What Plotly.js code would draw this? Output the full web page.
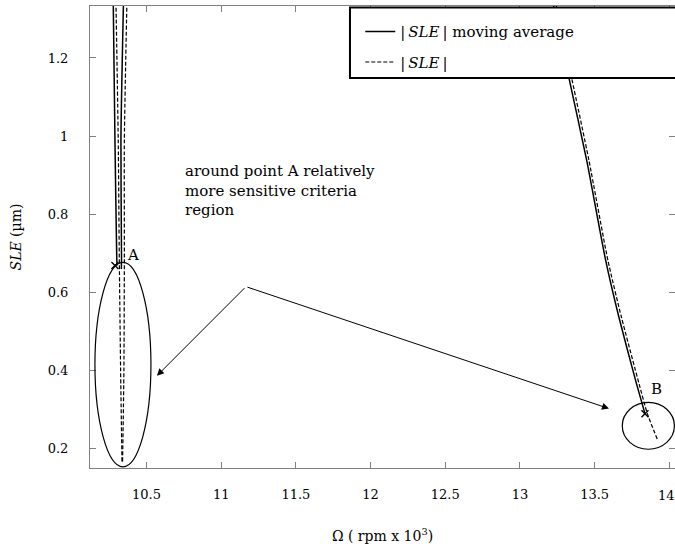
<!DOCTYPE html>
<html>
<head>
<meta charset="utf-8">
<script src="https://cdn.plot.ly/plotly-3.0.1.min.js"></script>
<style>html,body{margin:0;padding:0;background:#fff;}#chart{width:675px;height:552px;}</style>
</head>
<body>
<div id="chart"></div>
<script>
// Left region (near point A): two branches each
const omegaAvgA1 = [10.277, 10.289, 10.301, 10.303];
const sleAvgA1   = [1.36, 0.99, 0.69, 0.669];
const omegaAvgA2 = [10.347, 10.329, 10.333, 10.332];
const sleAvgA2   = [1.36, 0.99, 0.69, 0.66];
const omegaRawA1 = [10.295, 10.311, 10.318, 10.327, 10.336];
const sleRawA1   = [1.36, 0.99, 0.69, 0.40, 0.167];
const omegaRawA2 = [10.370, 10.352, 10.352, 10.349, 10.340];
const sleRawA2   = [1.36, 0.99, 0.69, 0.40, 0.167];
// Right region (near point B)
const omegaAvgB = [13.222, 13.328, 13.447, 13.574, 13.663, 13.780, 13.837];
const sleAvgB   = [1.34, 1.149, 0.938, 0.682, 0.536, 0.367, 0.290];
const omegaRawB = [13.239, 13.346, 13.462, 13.589, 13.680, 13.797, 13.853, 13.919];
const sleRawB   = [1.34, 1.149, 0.938, 0.682, 0.536, 0.367, 0.290, 0.225];
// Marked points
const pointNames = ['A', 'B'];
const pointOmega = [10.289, 13.837];
const pointSle   = [0.669, 0.290];
// Axis ticks
const xTickVals = [10.5, 11, 11.5, 12, 12.5, 13, 13.5, 14];
const xTickText = ['10.5', '11', '11.5', '12', '12.5', '13', '13.5', ''];
const yTickVals = [0.2, 0.4, 0.6, 0.8, 1, 1.2];
const yTickText = ['0.2', '0.4', '0.6', '0.8', '1', '1.2'];

const FONT = 'DejaVu Serif, serif';
const AX = '#808080';

const traces = [
  {
    x: omegaAvgA1.concat([null], omegaAvgA2, [null], omegaAvgB),
    y: sleAvgA1.concat([null], sleAvgA2, [null], sleAvgB),
    mode: 'lines', name: '|\u2009<i>SLE</i>\u2009| moving average', legendgroup: 'a',
    line: {color: '#000', width: 1.5, shape: 'spline', smoothing: 0.6}, connectgaps: false
  },
  {
    x: omegaRawA1.concat([null], omegaRawA2, [null], omegaRawB),
    y: sleRawA1.concat([null], sleRawA2, [null], sleRawB),
    mode: 'lines', name: '|\u2009<i>SLE</i>\u2009|', legendgroup: 'b',
    line: {color: '#000', width: 1.2, dash: '4px,2px', shape: 'spline', smoothing: 0.6}, connectgaps: false
  },
  {
    x: pointOmega, y: pointSle, mode: 'markers', showlegend: false,
    marker: {symbol: 'x-thin-open', size: 7, color: '#000', line: {color: '#000', width: 1.4}}
  }
];

const annotations = [
  {x: 10.745, y: 0.938, xref: 'x', yref: 'y', xanchor: 'left', yanchor: 'top', align: 'left',
   text: 'around point A relatively<br>more sensitive criteria<br>region', showarrow: false,
   font: {family: FONT, size: 15, color: '#000'}},
  {x: 10.41, y: 0.697, xref: 'x', yref: 'y', text: pointNames[0], showarrow: false,
   font: {family: FONT, size: 15, color: '#000'}},
  {x: 13.917, y: 0.354, xref: 'x', yref: 'y', text: pointNames[1], showarrow: false,
   font: {family: FONT, size: 15, color: '#000'}},
  {x: 10.570, y: 0.387, ax: 11.166, ay: 0.615, xref: 'x', yref: 'y', axref: 'x', ayref: 'y',
   text: '', showarrow: true, arrowhead: 2, arrowsize: 1.4, arrowwidth: 1, arrowcolor: '#000', standoff: 0},
  {x: 13.596, y: 0.303, ax: 11.166, ay: 0.615, xref: 'x', yref: 'y', axref: 'x', ayref: 'y',
   text: '', showarrow: true, arrowhead: 2, arrowsize: 1.4, arrowwidth: 1, arrowcolor: '#000', standoff: 0},
  {x: 14, y: 0, xref: 'x', yref: 'paper', yanchor: 'top', yshift: -18, xshift: -3, text: '14', showarrow: false,
   font: {family: FONT, size: 13, color: '#000'}}
];

const shapes = [
  {type: 'circle', xref: 'x', yref: 'y', x0: 10.155, x1: 10.530, y0: 0.154, y1: 0.677,
   line: {color: '#000', width: 1.2}},
  {type: 'circle', xref: 'x', yref: 'y', x0: 13.685, x1: 14.034, y0: 0.199, y1: 0.319,
   line: {color: '#000', width: 1.2}},
  {type: 'rect', xref: 'paper', yref: 'paper', x0: 0.4444, x1: 1.03, y0: 0.844, y1: 0.997,
   line: {color: '#000', width: 2}, fillcolor: '#fff', layer: 'above'}
];

const layout = {
  width: 675, height: 552,
  margin: {l: 90, r: 0, t: 6, b: 84, pad: 0},
  paper_bgcolor: '#fff', plot_bgcolor: '#fff',
  font: {family: FONT, size: 13, color: '#000'},
  showlegend: true,
  legend: {x: 0.462, y: 0.98, xanchor: 'left', yanchor: 'top', bgcolor: 'rgba(0,0,0,0)',
           borderwidth: 0, tracegroupgap: 8, font: {family: FONT, size: 15, color: '#000'}},
  xaxis: {
    range: [10.122, 14.038], tickvals: xTickVals, ticktext: xTickText,
    ticks: 'inside', ticklen: 6, tickcolor: AX, showline: true, linecolor: AX, linewidth: 1,
    mirror: 'ticks', showgrid: false, zeroline: false, ticklabelstandoff: 14,
    tickfont: {family: FONT, size: 13, color: '#000'},
    title: {text: 'Ω ( rpm x 10<sup>3</sup>)', font: {family: FONT, size: 14, color: '#000'}, standoff: 30}
  },
  yaxis: {
    range: [0.151, 1.333], tickvals: yTickVals, ticktext: yTickText,
    ticks: 'inside', ticklen: 6, tickcolor: AX, showline: true, linecolor: AX, linewidth: 1,
    mirror: 'ticks', showgrid: false, zeroline: false, ticklabelstandoff: 18,
    tickfont: {family: FONT, size: 13, color: '#000'},
    title: {text: '<i>SLE</i> (µm)', font: {family: FONT, size: 14, color: '#000'}, standoff: 22}
  },
  annotations: annotations,
  shapes: shapes
};

Plotly.newPlot('chart', traces, layout, {displayModeBar: false, staticPlot: true});
</script>
</body>
</html>
